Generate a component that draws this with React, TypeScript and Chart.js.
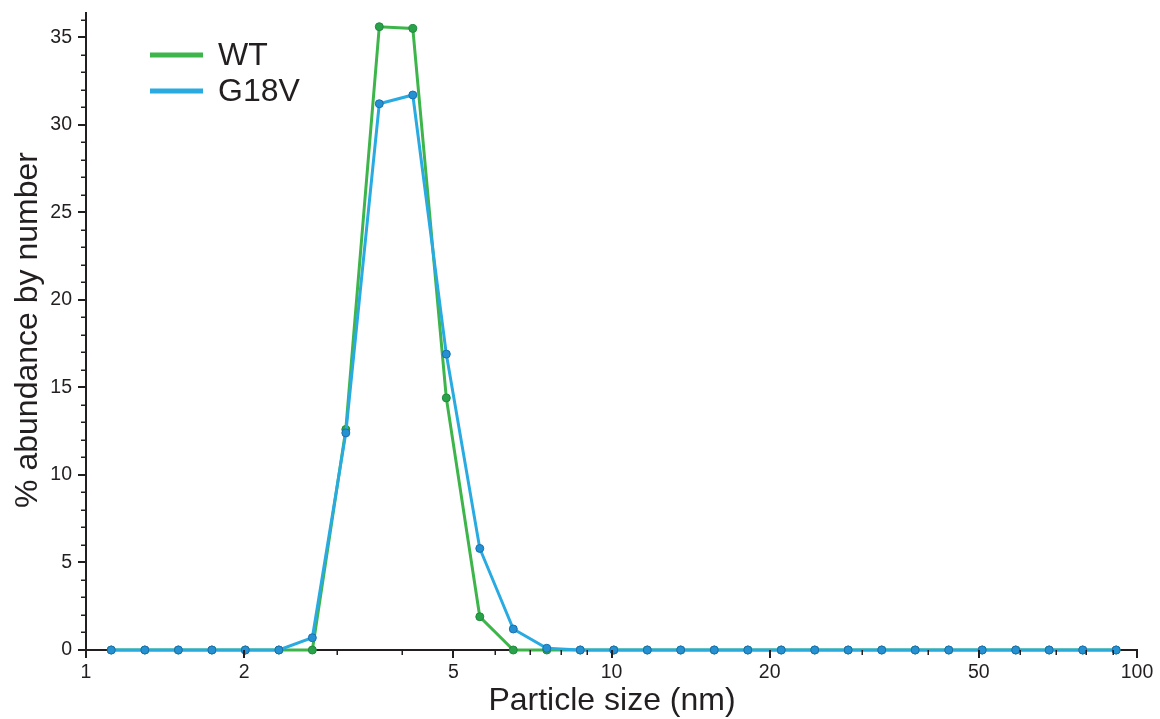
import React, { useEffect, useRef } from "react";
import { Chart, registerables } from "chart.js";

Chart.register(...registerables);

// Particle size bins (nm)
const sizes: number[] = [
  1.117, 1.294, 1.499, 1.736, 2.01, 2.328, 2.696, 3.122, 3.615, 4.187, 4.849,
  5.615, 6.503, 7.531, 8.721, 10.1, 11.7, 13.54, 15.69, 18.17, 21.04, 24.36,
  28.21, 32.67, 37.84, 43.82, 50.75, 58.77, 68.06, 78.82, 91.28,
];

// % abundance by number
const wtValues: number[] = [
  0, 0, 0, 0, 0, 0, 0, 12.6, 35.6, 35.5, 14.4, 1.9, 0, 0, 0, 0, 0, 0, 0, 0, 0,
  0, 0, 0, 0, 0, 0, 0, 0, 0, 0,
];
const g18vValues: number[] = [
  0, 0, 0, 0, 0, 0, 0.7, 12.4, 31.2, 31.7, 16.9, 5.8, 1.2, 0.1, 0, 0, 0, 0, 0,
  0, 0, 0, 0, 0, 0, 0, 0, 0, 0, 0, 0,
];

const seriesNames: string[] = ["WT", "G18V"];

// Axis ticks
const xMajorTicks: number[] = [1, 2, 5, 10, 20, 50, 100];
const xMinorTicks: number[] = [3, 4, 6, 7, 8, 9, 30, 40, 60, 70, 80, 90];
const yMajorTicks: number[] = [0, 5, 10, 15, 20, 25, 30, 35];
const yMinorTicks: number[] = [
  1, 2, 3, 4, 6, 7, 8, 9, 11, 12, 13, 14, 16, 17, 18, 19, 21, 22, 23, 24, 26,
  27, 28, 29, 31, 32, 33, 34, 36,
];

const X_TITLE = "Particle size (nm)";
const Y_TITLE = "% abundance by number";

const INK = "#231f20";
const GREEN = "#3db54a";
const GREEN_PT = "#2aa24a";
const GREEN_PT_EDGE = "#1f8a3c";
const BLUE = "#29abe2";
const BLUE_PT = "#2590d2";
const BLUE_PT_EDGE = "#1a70ae";
const FONT = "'Liberation Sans', Arial, Helvetica, sans-serif";

export default function App() {
  const ref = useRef<HTMLCanvasElement | null>(null);

  useEffect(() => {
    if (!ref.current) return;

    const overlay = {
      id: "overlay",
      afterDatasetsDraw(chart: any) {
        const ctx = chart.ctx;
        const xs = chart.scales.x;
        const ys = chart.scales.y;
        const ca = chart.chartArea;
        ctx.save();
        ctx.strokeStyle = INK;
        ctx.lineWidth = 2;
        // x ticks (downward)
        const bottom = ca.bottom;
        xMajorTicks.forEach((v) => {
          const px = Math.round(xs.getPixelForValue(v));
          ctx.beginPath();
          ctx.moveTo(px, bottom);
          ctx.lineTo(px, bottom + 8);
          ctx.stroke();
        });
        ctx.lineWidth = 1.5;
        xMinorTicks.forEach((v) => {
          const px = Math.round(xs.getPixelForValue(v)) + 0.25;
          ctx.beginPath();
          ctx.moveTo(px, bottom);
          ctx.lineTo(px, bottom + 5);
          ctx.stroke();
        });
        // y ticks (leftward)
        const left = ca.left;
        ctx.lineWidth = 2;
        yMajorTicks.forEach((v) => {
          const py = Math.round(ys.getPixelForValue(v));
          ctx.beginPath();
          ctx.moveTo(left, py);
          ctx.lineTo(left - 8, py);
          ctx.stroke();
        });
        ctx.lineWidth = 1.5;
        yMinorTicks.forEach((v) => {
          const py = Math.round(ys.getPixelForValue(v)) + 0.25;
          ctx.beginPath();
          ctx.moveTo(left, py);
          ctx.lineTo(left - 5, py);
          ctx.stroke();
        });

        // axis titles
        ctx.fillStyle = INK;
        ctx.font = `32px ${FONT}`;
        ctx.textAlign = "center";
        ctx.textBaseline = "alphabetic";
        ctx.fillText(X_TITLE, 612, 710);

        ctx.save();
        ctx.translate(37, 330);
        ctx.rotate(-Math.PI / 2);
        ctx.font = `32px ${FONT}`;
        ctx.textAlign = "center";
        ctx.textBaseline = "alphabetic";
        ctx.fillText(Y_TITLE, 0, 0);
        ctx.restore();

        // legend
        const colors = [GREEN, BLUE];
        const ys2 = [55, 91];
        ctx.font = `32px ${FONT}`;
        ctx.textAlign = "left";
        ctx.textBaseline = "middle";
        seriesNames.forEach((name, i) => {
          ctx.strokeStyle = colors[i];
          ctx.lineWidth = 5;
          ctx.beginPath();
          ctx.moveTo(150, ys2[i]);
          ctx.lineTo(203, ys2[i]);
          ctx.stroke();
          ctx.fillStyle = INK;
          ctx.fillText(name, 218, ys2[i] + 1);
        });
        ctx.restore();
      },
    };

    const chart = new Chart(ref.current, {
      type: "line",
      data: {
        datasets: [
          {
            label: seriesNames[0],
            data: sizes.map((s, i) => ({ x: s, y: wtValues[i] })),
            borderColor: GREEN,
            borderWidth: 3,
            pointRadius: 4,
            pointBackgroundColor: GREEN_PT,
            pointBorderColor: GREEN_PT_EDGE,
            pointBorderWidth: 1,
            tension: 0,
            clip: false as any,
            order: 1,
          },
          {
            label: seriesNames[1],
            data: sizes.map((s, i) => ({ x: s, y: g18vValues[i] })),
            borderColor: BLUE,
            borderWidth: 3,
            pointRadius: 4,
            pointBackgroundColor: BLUE_PT,
            pointBorderColor: BLUE_PT_EDGE,
            pointBorderWidth: 1,
            tension: 0,
            clip: false as any,
            order: 0,
          },
        ],
      },
      options: {
        responsive: false,
        animation: false,
        layout: { padding: { left: 0, right: 23, top: 12.7, bottom: 0 } },
        plugins: {
          legend: { display: false },
          tooltip: { enabled: false },
        },
        scales: {
          x: {
            type: "logarithmic",
            min: 1,
            max: 100,
            afterBuildTicks: (scale: any) => {
              scale.ticks = xMajorTicks.map((v) => ({ value: v }));
            },
            afterFit: (scale: any) => {
              scale.height = 69;
            },
            grid: {
              display: true,
              drawOnChartArea: false,
              drawTicks: true,
              tickLength: 8,
              tickColor: "rgba(0,0,0,0)",
            },
            border: { display: true, color: INK, width: 2 },
            ticks: {
              autoSkip: false,
              maxRotation: 0,
              padding: 3,
              color: INK,
              font: { family: FONT, size: 19.5 },
              callback: (v: any) => String(v),
            },
          },
          y: {
            type: "linear",
            min: 0,
            max: 36.4,
            afterBuildTicks: (scale: any) => {
              scale.ticks = yMajorTicks.map((v) => ({ value: v }));
            },
            afterFit: (scale: any) => {
              scale.width = 86;
              scale.paddingTop = 0;
              scale.paddingBottom = 0;
            },
            grid: {
              display: true,
              drawOnChartArea: false,
              drawTicks: true,
              tickLength: 8,
              tickColor: "rgba(0,0,0,0)",
            },
            border: { display: true, color: INK, width: 2 },
            ticks: {
              autoSkip: false,
              padding: 6,
              color: INK,
              font: { family: FONT, size: 19.5 },
              callback: (v: any) => String(v),
            },
          },
        },
      },
      plugins: [overlay],
    } as any);

    return () => chart.destroy();
  }, []);

  return (
    <div style={{ position: "fixed", left: 0, top: 0, width: 1160, height: 719, background: "#fff" }}>
      <canvas ref={ref} width={1160} height={719} style={{ display: "block" }} />
    </div>
  );
}
